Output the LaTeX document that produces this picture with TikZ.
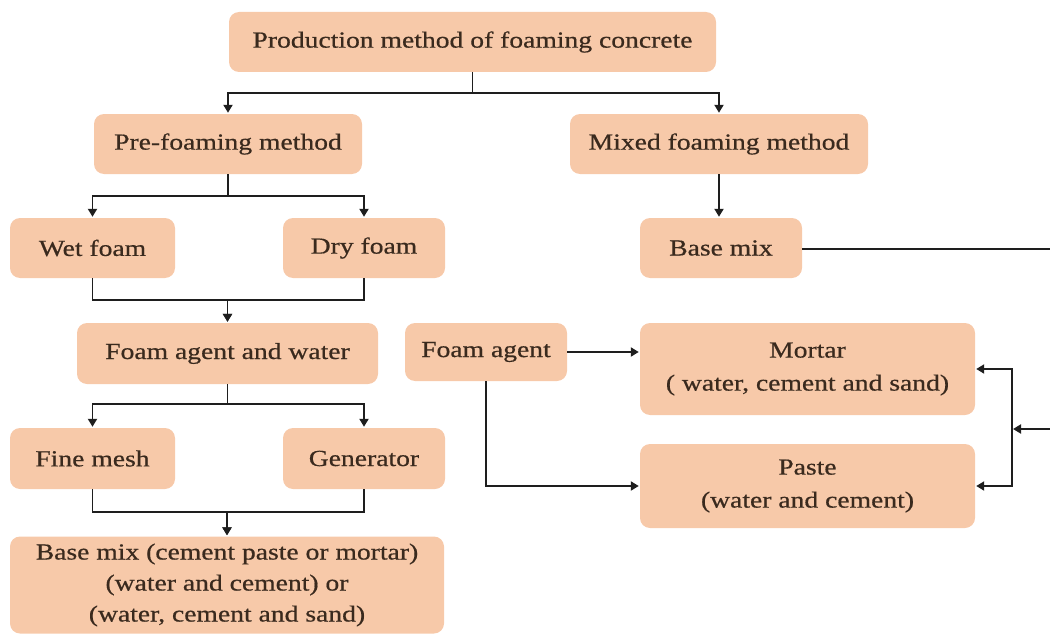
\documentclass[tikz,border=0pt]{standalone}
\usepackage{fontspec}
\setmainfont{Liberation Serif}[FakeStretch=1.2,FakeBold=0.6]
\usetikzlibrary{arrows.meta,calc}
\definecolor{boxfill}{HTML}{F7C9A9}
\definecolor{txt}{HTML}{3A2A1E}
\definecolor{ln}{HTML}{1E1E1E}
\begin{document}
\begin{tikzpicture}[x=1pt,y=-1pt,
  box/.style={fill=boxfill,draw=none,rounded corners=10pt,inner sep=0pt,align=center,
    text=txt,font=\fontsize{23}{33}\selectfont},
  conn/.style={draw=ln,line width=1.9pt},
  arr/.style={conn,-{Triangle[length=8pt,width=9pt]},shorten >=1pt}]
\useasboundingbox (0,0) rectangle (1050,634);
\node[box,minimum width=487pt,minimum height=60pt] (top) at (472.5,42) {Production method of foaming concrete};
\node[box,minimum width=268pt,minimum height=60pt] (pre) at (228,144) {Pre-foaming method};
\node[box,minimum width=298pt,minimum height=60pt] (mixed) at (719,144) {Mixed foaming method};
\node[box,minimum width=165pt,minimum height=60pt] (wet) at (92.5,248) {Wet foam};
\node[box,minimum width=162pt,minimum height=60pt] (dry) at (364,248) {Dry foam};
\node[box,minimum width=162pt,minimum height=60pt] (basemix) at (721,248) {Base mix};
\node[box,minimum width=301pt,minimum height=61pt] (faw) at (227.5,353.5) {Foam agent and water};
\node[box,minimum width=162pt,minimum height=58pt] (fa) at (486,352) {Foam agent};
\node[box,minimum width=335pt,minimum height=92pt] (mortar) at (807.5,369) {Mortar\\( water, cement and sand)};
\node[box,minimum width=165pt,minimum height=61pt] (fine) at (92.5,458.5) {Fine mesh};
\node[box,minimum width=162pt,minimum height=61pt] (gen) at (364,458.5) {Generator};
\node[box,minimum width=335pt,minimum height=84pt] (paste) at (807.5,486) {Paste\\(water and cement)};
\node[box,minimum width=434pt,minimum height=97pt,font=\fontsize{23}{31}\selectfont] (bottom) at (227,585) {Base mix (cement paste or mortar)\\(water and cement) or\\(water, cement and sand)};
% connectors
\draw[arr] (top.south) -- ++(0,21) -| (pre.north);
\draw[arr] (top.south) -- ++(0,21) -| (mixed.north);
\draw[arr] (pre.south) -- ++(0,22) -| (wet.north);
\draw[arr] (pre.south) -- ++(0,22) -| (dry.north);
\draw[arr] (mixed.south) -- (mixed.south |- basemix.north);
\draw[arr] (wet.south) -- ++(0,22) -| (faw.north);
\draw[arr] (dry.south) -- ++(0,22) -| (faw.north);
\draw[arr] (faw.south) -- ++(0,20) -| (fine.north);
\draw[arr] (faw.south) -- ++(0,20) -| (gen.north);
\draw[arr] (fine.south) -- ++(0,23) -| (bottom.north);
\draw[arr] (gen.south) -- ++(0,23) -| (bottom.north);
\draw[arr] (fa.east) -- (fa.east -| mortar.west);
\draw[arr] (fa.south) |- (paste.west);
\coordinate (edge1) at (1050,249);
\coordinate (edge2) at (1050,429);
\coordinate (bj) at (1012,429);
\draw[conn] (basemix.east |- edge1) -- (edge1);
\draw[arr] (edge2) -- (bj);
\draw[arr] (bj) |- (mortar.east);
\draw[arr] (bj) |- (paste.east);
\end{tikzpicture}
\end{document}
